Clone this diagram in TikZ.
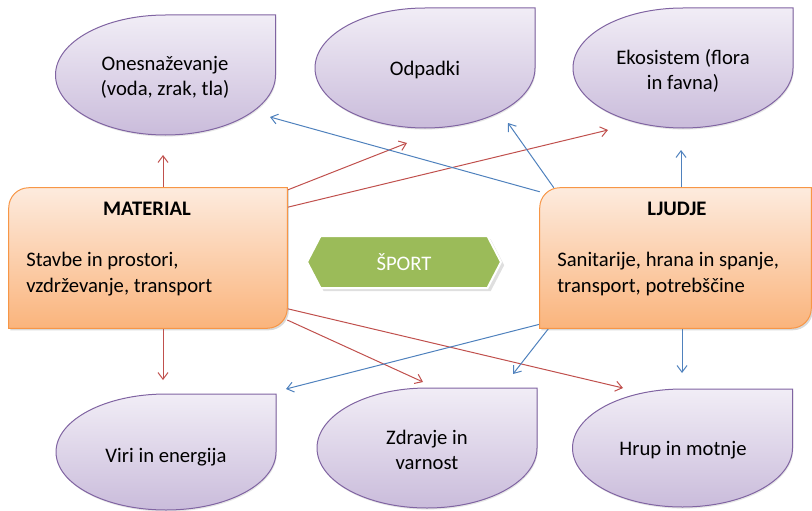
\documentclass[tikz,border=0pt]{standalone}
\usepackage{fontspec}
\setmainfont{Carlito}
\usetikzlibrary{arrows.meta,shapes.symbols,shadows}
\definecolor{bubline}{HTML}{8064A2}
\definecolor{bubtop}{HTML}{F1EDF6}
\definecolor{bubbot}{HTML}{CABCDB}
\definecolor{boxline}{HTML}{F79646}
\definecolor{boxtop}{HTML}{FDEBDE}
\definecolor{boxbot}{HTML}{FAB47C}
\definecolor{sportgreen}{HTML}{9BBB59}
\definecolor{arrred}{HTML}{C0504D}
\definecolor{arrblue}{HTML}{4F81BD}

\begin{document}
\begin{tikzpicture}
  [x=0.75pt,y=-0.75pt,
   every node/.style={font=\fontsize{15.5}{19}\selectfont, inner sep=0pt},
   bubble/.style={draw=bubline, line width=0.75pt, top color=bubtop, bottom color=bubbot,
     drop shadow={opacity=0.2, shadow xshift=0.6pt, shadow yshift=-1.2pt}},
   bubtext/.style={align=center},
   boxnode/.style={minimum height=105pt},
   boxshape/.style={draw=boxline, line width=0.75pt, top color=boxtop, bottom color=boxbot,
     drop shadow={opacity=0.3, shadow xshift=1.2pt, shadow yshift=-1.5pt}},
   boxtext/.style={align=left, anchor=west},
   sport/.style={signal, signal to=west and east, signal pointer angle=125,
     minimum width=145.5pt, minimum height=39pt, fill=sportgreen, draw=white,
     line width=1.5pt, text=white, drop shadow={opacity=0.25}},
   redarrow/.style={draw=arrred, line width=0.75pt, -{Straight Barb[length=5pt,width=7.5pt]}},
   bluearrow/.style={draw=arrblue, line width=0.75pt, -{Straight Barb[length=5pt,width=7.5pt]}}]
  \useasboundingbox (0,0) rectangle (812,510);

  % bubbles
  \foreach \cx/\cy/\ry in {165.5/75/60, 425/68/60, 683/68/60, 166/452/58, 427/448/60, 682.5/448/59}
    \path[bubble] ({\cx},{\cy-\ry}) -- ({\cx+110},{\cy-\ry}) -- ({\cx+110},{\cy})
      arc[start angle=0, end angle=270, x radius=110, y radius=\ry] -- cycle;

  \node[bubtext] (ones) at (165,77) {Onesnaževanje\\(voda, zrak, tla)};
  \node[bubtext] (odp) at (425,70) {Odpadki};
  \node[bubtext] (eko) at (683,71) {Ekosistem (flora\\in favna)};
  \node[bubtext] (viri) at (166,457) {Viri in energija};
  \node[bubtext] (zdr) at (427,450) {Zdravje in\\varnost};
  \node[bubtext] (hrup) at (683,450) {Hrup in motnje};

  \node[boxnode, minimum width=208.5pt] (mat) at (148,258) {};
  \node[boxnode, minimum width=203.25pt] (lju) at (675.5,258) {};

  \coordinate (onesM) at (163,155);
  \coordinate (odpM) at (407,143);
  \coordinate (ekoM) at (608,130);
  \coordinate (viriM) at (163,380);
  \coordinate (zdrM) at (423,382);
  \coordinate (hrupM) at (623,388);
  \coordinate (onesL) at (270,117);
  \coordinate (odpL) at (508,123);
  \coordinate (ekoL) at (681,150);
  \coordinate (viriL) at (286,389);
  \coordinate (zdrL) at (513,374);
  \coordinate (hrupL) at (682,373);

  \foreach \from/\to in {onesM |- mat.north/onesM, mat.26/odpM, mat.20/ekoM,
      viriM |- mat.south/viriM, mat.-24/zdrM, mat.-20/hrupM}
    \draw[redarrow] (\from) -- (\to);
  \foreach \from/\to in {lju.154/onesL, lju.150/odpL, ekoL |- lju.north/ekoL,
      lju.206/viriL, lju.209/zdrL, hrupL |- lju.south/hrupL}
    \draw[bluearrow] (\from) -- (\to);

  % boxes
  \foreach \b in {mat, lju}
    \path[boxshape] (\b.south west) -- ([yshift=-15pt]\b.north west)
      arc[start angle=180, end angle=270, radius=20] -- (\b.north east)
      -- ([yshift=15pt]\b.south east) arc[start angle=0, end angle=90, radius=20] -- cycle;

  \node[font=\fontsize{15.5}{19}\selectfont\bfseries] (mattitle) at (147,209) {MATERIAL};
  \node[boxtext] (mattext) at (26,274) {Stavbe in prostori,\\vzdrževanje, transport};
  \node[font=\fontsize{15.5}{19}\selectfont\bfseries] (ljutitle) at (677,209) {LJUDJE};
  \node[boxtext] (ljutext) at (557,274) {Sanitarije, hrana in spanje,\\transport, potrebščine};

  \node[sport] (sport) at (404,262) {ŠPORT};
\end{tikzpicture}
\end{document}
